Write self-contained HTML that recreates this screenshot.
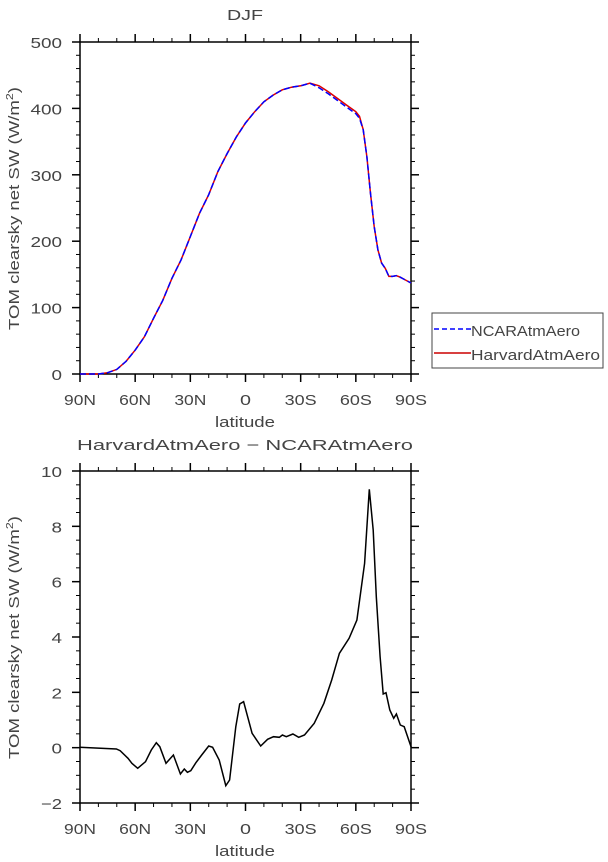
<!DOCTYPE html>
<html><head><meta charset="utf-8"><style>
html,body{margin:0;padding:0;background:#fff;}
svg{display:block;}
text{font-family:"Liberation Sans",sans-serif;fill:#444;font-size:15px;}
</style></head><body>
<svg id="s" width="608" height="862" xmlns="http://www.w3.org/2000/svg">
<text x="227" y="20" font-size="17" textLength="36" lengthAdjust="spacingAndGlyphs">DJF</text>
<text x="77" y="450" font-size="17" textLength="336" lengthAdjust="spacingAndGlyphs">HarvardAtmAero − NCARAtmAero</text>
<g id="g1"></g>
<g id="g2"></g>
<rect x="432" y="313" width="171" height="55" fill="none" stroke="#444" stroke-width="1"/>
<line x1="434" y1="329" x2="471" y2="329" stroke="#0000ff" stroke-width="1.5" stroke-dasharray="5,3"/>
<text x="471" y="336" font-size="16" textLength="109" lengthAdjust="spacingAndGlyphs">NCARAtmAero</text>
<line x1="434" y1="353" x2="471" y2="353" stroke="#cc0000" stroke-width="1.5"/>
<text x="471" y="360" font-size="16" textLength="129" lengthAdjust="spacingAndGlyphs">HarvardAtmAero</text>
</svg>
<script>
var NS="http://www.w3.org/2000/svg";
function el(p,n,a,t){var e=document.createElementNS(NS,n);for(var k in a)e.setAttribute(k,a[k]);if(t!==undefined)e.textContent=t;p.appendChild(e);return e;}
var L=80,R=411;
function axes(g,top,bot,ymin,ymax,major,minor,labfmt){
  el(g,"rect",{x:L,y:top,width:R-L,height:bot-top,fill:"none",stroke:"#000","stroke-width":1.5});
  var xs=["90N","60N","30N","0","30S","60S","90S"];
  for(var d=0;d<=180;d+=10){var x=L+d*(R-L)/180;var maj=d%30==0;var len=maj?8:4;
    el(g,"line",{x1:x,y1:bot,x2:x,y2:bot+len,stroke:"#000","stroke-width":maj?1.5:1});
    el(g,"line",{x1:x,y1:top,x2:x,y2:top-len,stroke:"#000","stroke-width":maj?1.5:1});
    if(maj){var s=xs[d/30];var w=s.length==1?11:32;
      el(g,"text",{x:x-w/2,y:bot+31,"font-size":17,textLength:w,lengthAdjust:"spacingAndGlyphs"},s);}}
  el(g,"text",{x:215,y:bot+53,"font-size":17,textLength:60,lengthAdjust:"spacingAndGlyphs"},"latitude");
  var n=Math.round((ymax-ymin)/minor);
  for(var i=0;i<=n;i++){var v=ymin+i*minor;var y=bot-(v-ymin)*(bot-top)/(ymax-ymin);
    var maj=Math.abs(v/major-Math.round(v/major))<1e-6;var len=maj?8:4;
    el(g,"line",{x1:L,y1:y,x2:L-len,y2:y,stroke:"#000","stroke-width":maj?1.5:1});
    el(g,"line",{x1:R,y1:y,x2:R+len,y2:y,stroke:"#000","stroke-width":maj?1.5:1});
    if(maj){var s=labfmt(v);var w=s.length*10.5;
      el(g,"text",{x:62-w,y:y+6,"font-size":17,textLength:w,lengthAdjust:"spacingAndGlyphs"},s);}}
  var cy=(top+bot)/2;
  var t=el(g,"text",{x:-122,y:0,"font-size":16,textLength:243,lengthAdjust:"spacingAndGlyphs",transform:"translate(19,"+cy+") rotate(-90)"});
  t.appendChild(document.createTextNode("TOM clearsky net SW (W/m"));
  el(t,"tspan",{"font-size":10,dy:-6},"2");
  el(t,"tspan",{dy:6},")");
}
var g1=document.getElementById("g1"),g2=document.getElementById("g2");
axes(g1,42,374,0,500,100,20,function(v){return ""+v;});
axes(g2,471,803,-2,10,2,0.5,function(v){return v<0?"−"+(-v):""+v;});
var d1=[[90,0],[80,0],[75,2],[70,7],[65,19],[60,36],[55,56],[50,84],[45,111],[40,144],[35,172],[30,207],[25,242],[20,270],[15,305],[10,332],[5,357],[0,378],[-5,395],[-10,410],[-15,420],[-20,428],[-25,432],[-30,434],[-35,438],[-40,434],[-45,425],[-50,415],[-55,405],[-60,395],[-62,388],[-64,368],[-66,327],[-68,272],[-70,222],[-72,187],[-74,167],[-76,159],[-78,147],[-80,147],[-82,148],[-84,146],[-86,143],[-88,140],[-90,137]];
function p1(dd,off){return dd.map(function(p){var x=L+(90-p[0])*(R-L)/180;var y=374-(p[1]+off)*332/500;return x.toFixed(1)+","+y.toFixed(1);}).join(" ");}
var d1b=d1.map(function(p){var v=p[1];if(p[0]<-38&&p[0]>-64)v-=3;return [p[0],v];});
el(g1,"polyline",{points:p1(d1,0),fill:"none",stroke:"#dd0000","stroke-width":1.5});
el(g1,"polyline",{points:p1(d1b,0),fill:"none",stroke:"#0000ff","stroke-width":1.5,"stroke-dasharray":"6,3"});
var z=[[205,952],[300,957],[310,962],[330,985],[340,1000],[355,1015],[375,995],[390,960],[403,938],[412,950],[428,1000],[447,975],[465,1032],[475,1017],[483,1027],[492,1022],[505,998],[520,975],[538,948],[548,952],[565,990],[582,1067],[592,1050],[608,890],[618,822],[628,815],[650,910],[672,948],[690,928],[705,920],[720,922],[728,915],[738,920],[755,912],[770,922],[785,915],[810,880],[835,820],[855,750],[875,670],[900,625],[920,570],[940,400],[952,178],[962,300],[970,500],[980,680],[988,792],[995,788],[1005,840],[1015,865],[1022,852],[1032,885],[1042,890],[1060,952]];
el(g2,"polyline",{points:z.map(function(p){return (p[0]/2.578).toFixed(1)+","+(430+p[1]/3).toFixed(1);}).join(" "),fill:"none",stroke:"#000","stroke-width":1.5});
</script>
</body></html>
